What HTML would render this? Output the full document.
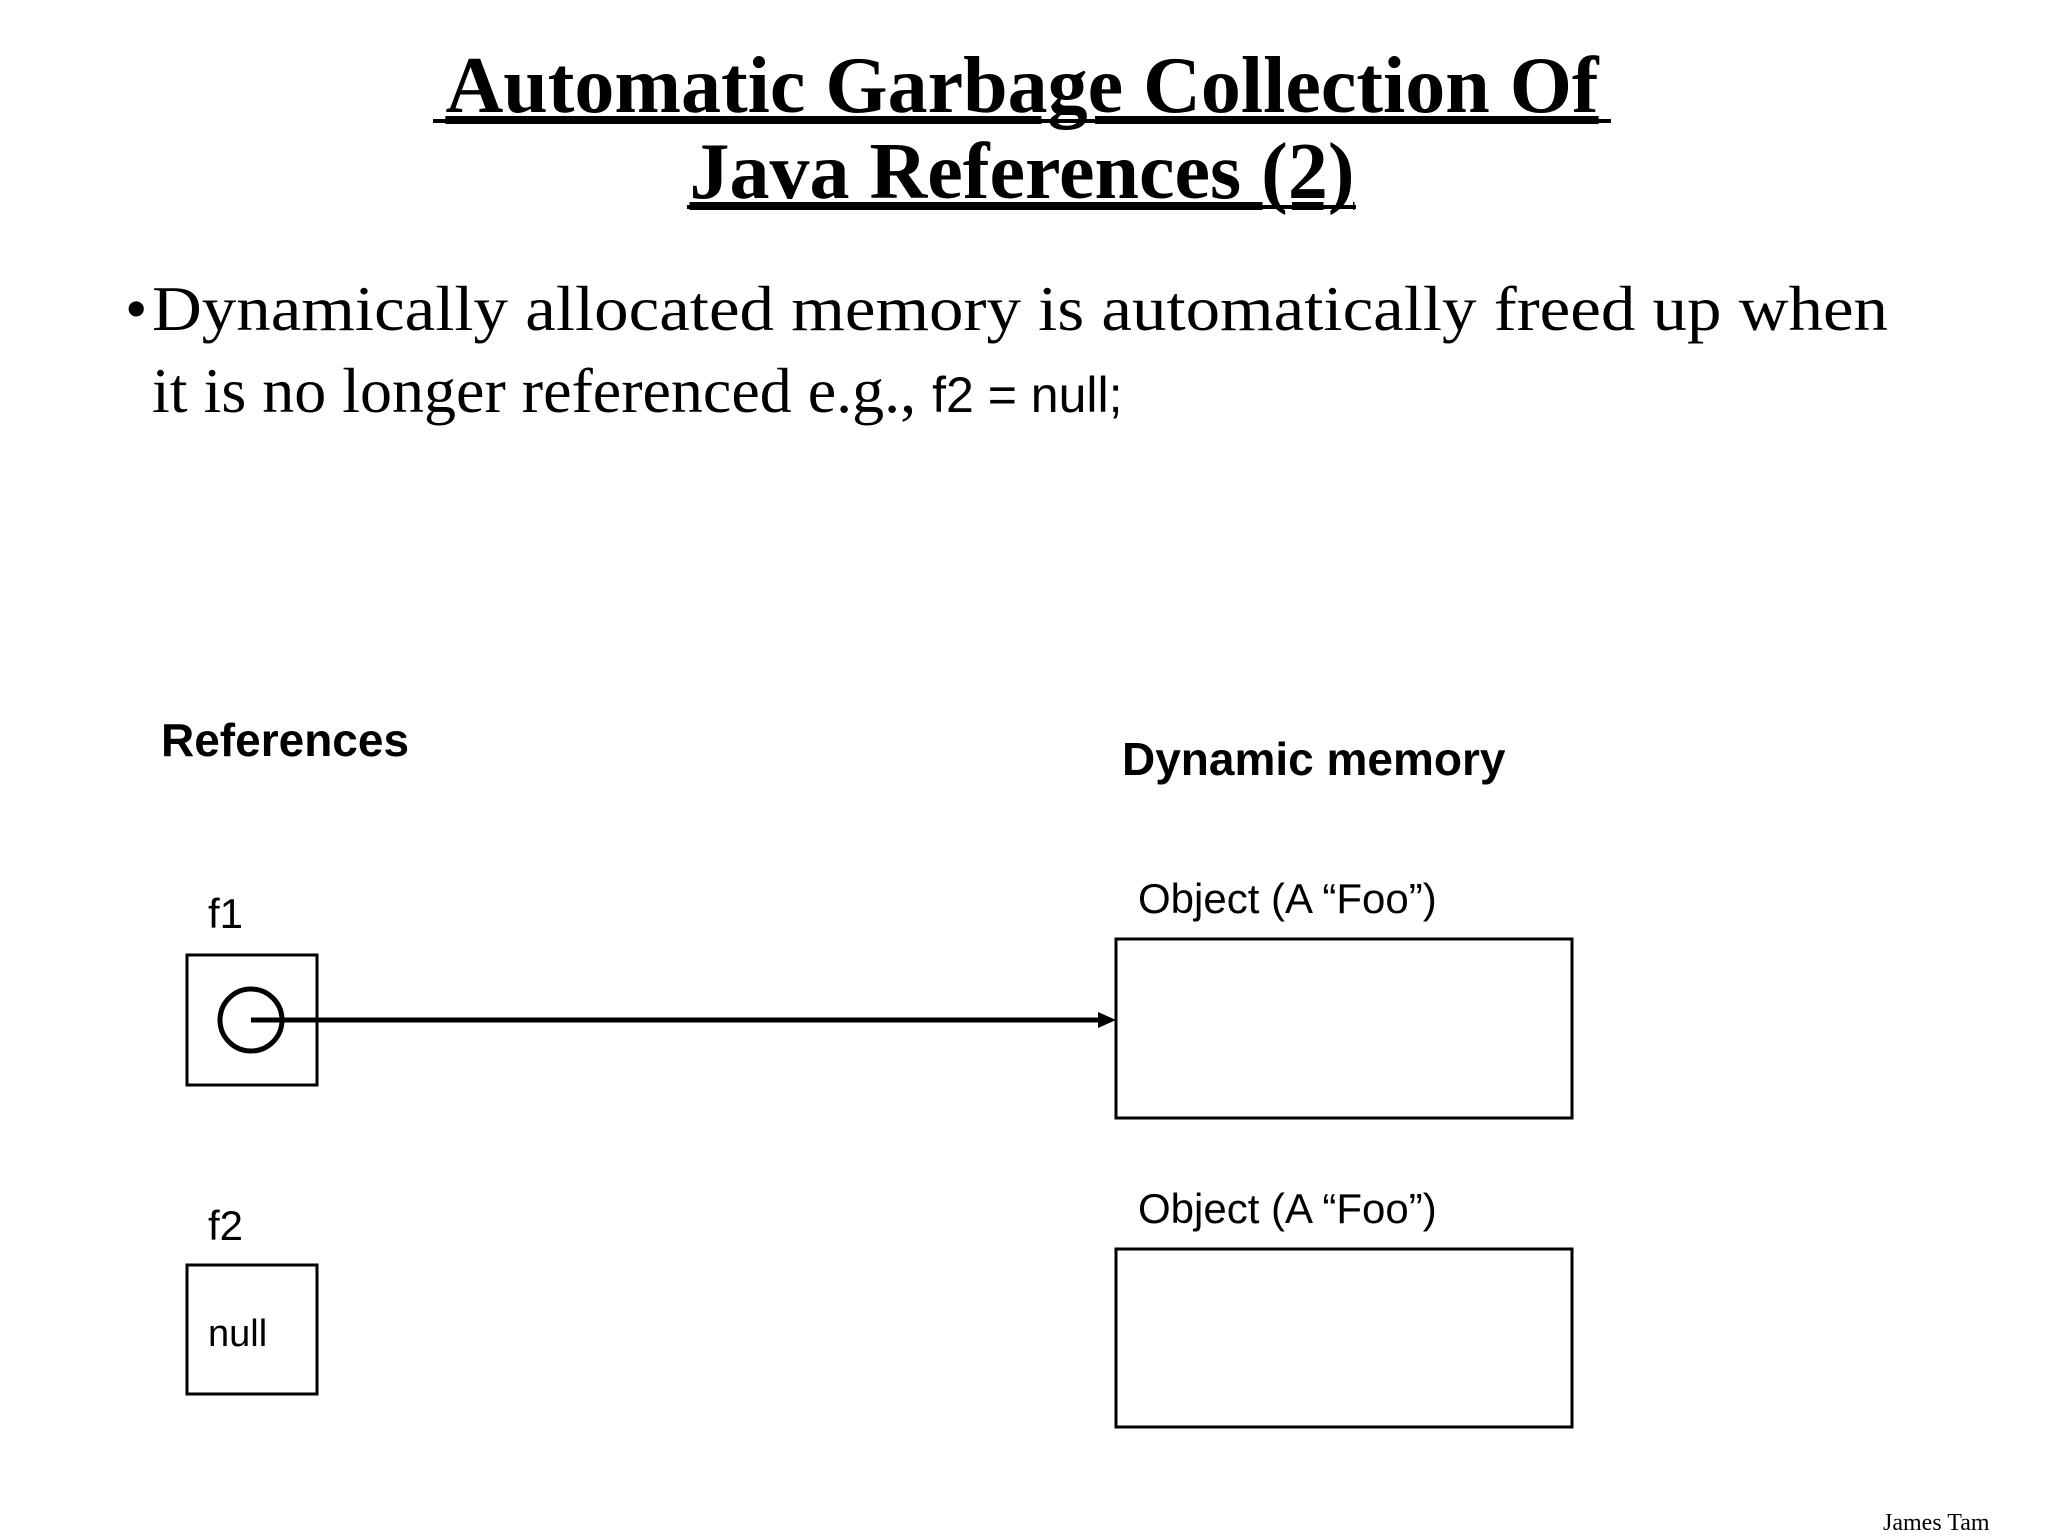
<!DOCTYPE html>
<html><head><meta charset="utf-8"><style>
html,body{margin:0;padding:0;background:#fff;}
svg{display:block;}
</style></head><body>
<svg width="2048" height="1536" viewBox="0 0 2048 1536" xmlns="http://www.w3.org/2000/svg">
<g font-family="Liberation Serif, serif" font-weight="bold" font-size="80" text-anchor="middle" fill="#000" text-decoration="underline">
<text x="1022" y="112" text-decoration="underline">Automatic Garbage Collection Of </text>
<text x="1022" y="198" text-decoration="underline">Java References (2)</text>
</g>
<line x1="433" y1="121" x2="1611" y2="121" stroke="#000" stroke-width="4"/>
<line x1="687" y1="207" x2="1356" y2="207" stroke="#000" stroke-width="4"/>
<g font-family="Liberation Serif, serif" font-size="64" fill="#000">
<text x="125" y="330">•</text>
<text x="152" y="330" textLength="1736" lengthAdjust="spacingAndGlyphs">Dynamically allocated memory is automatically freed up when</text>
<text x="152" y="412">it is no longer referenced e.g., <tspan font-family="Liberation Sans, sans-serif" font-size="50">f2 = null;</tspan></text>
</g>
<g font-family="Liberation Sans, sans-serif" fill="#000">
<text x="161" y="756" font-size="46" font-weight="bold">References</text>
<text x="1122" y="775" font-size="46" font-weight="bold">Dynamic memory</text>
<text x="208" y="928" font-size="42">f1</text>
<text x="208" y="1240" font-size="42">f2</text>
<text x="208" y="1346" font-size="38">null</text>
<text x="1138" y="913" font-size="42">Object (A “Foo”)</text>
<text x="1138" y="1223" font-size="42">Object (A “Foo”)</text>
</g>
<g fill="none" stroke="#000" stroke-width="3">
<rect x="187" y="955" width="130" height="130"/>
<rect x="187" y="1265" width="130" height="129"/>
<rect x="1116" y="939" width="456" height="179"/>
<rect x="1116" y="1249" width="456" height="178"/>
</g>
<circle cx="251" cy="1020" r="31" fill="none" stroke="#000" stroke-width="5"/>
<line x1="251" y1="1020" x2="1100" y2="1020" stroke="#000" stroke-width="5"/>
<polygon points="1116,1020 1098,1012 1098,1028" fill="#000"/>
<text x="1883" y="1530" font-family="Liberation Serif, serif" font-size="24" fill="#000">James Tam</text>
</svg>
</body></html>
